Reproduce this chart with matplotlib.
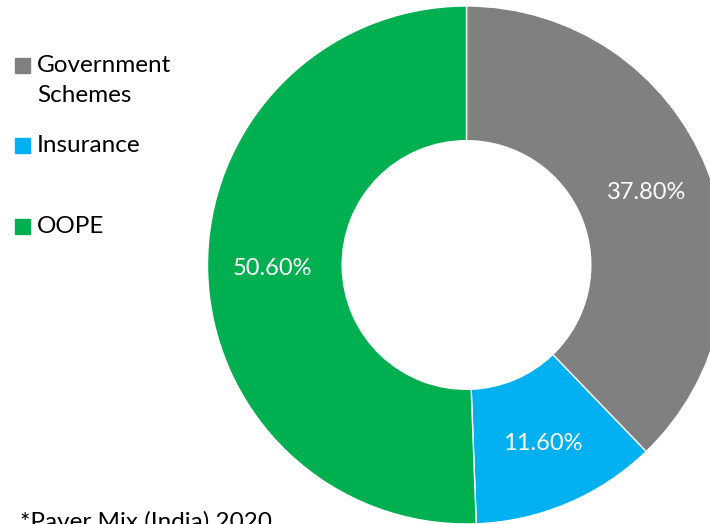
import matplotlib
matplotlib.use("Agg")
import matplotlib.pyplot as plt
from matplotlib.patches import Rectangle

plt.rcParams['font.family'] = ['Lato', 'DejaVu Sans']

# payer mix data
labels = ["Government\nSchemes", "Insurance", "OOPE"]
shares = [37.8, 11.6, 50.6]
colors = ["#808080", "#00B0F0", "#00B050"]
note = "*Payer Mix (India) 2020"

W, H = 710, 524
fig = plt.figure(figsize=(W / 100, H / 100), dpi=100)
ax = fig.add_axes([0, 0, 1, 1])

# donut center / radius in pixels
cx, cy, r = 466.5, 265, 259

wedges, texts, autotexts = ax.pie(
    shares, colors=colors, startangle=90, counterclock=False,
    autopct=lambda p: f"{p:.2f}%", pctdistance=0.75,
    wedgeprops=dict(width=0.52, edgecolor='white', linewidth=1),
    textprops=dict(color='white', fontsize=17), radius=1.0)
ax.set_xlim(-cx / r, (W - cx) / r)
ax.set_ylim(-(H - cy) / r, cy / r)
ax.set_aspect('equal')
ax.axis('off')

# legend drawn by hand (uneven PowerPoint-like spacing)
box_tops = [58, 138, 219]
for lab, col, top in zip(labels, colors, box_tops):
    fig.patches.append(Rectangle((15 / W, 1 - (top + 15) / H), 15 / W, 15 / H,
                                 transform=fig.transFigure, color=col))
    fig.text(37 / W, 1 - (top - 3) / H, lab, fontsize=17.5, va='top', ha='left',
             linespacing=1.5, color='black')

fig.text(20 / W, -5 / H, note, fontsize=17.5, va='baseline', ha='left')

fig.savefig("out.png", dpi=100)
